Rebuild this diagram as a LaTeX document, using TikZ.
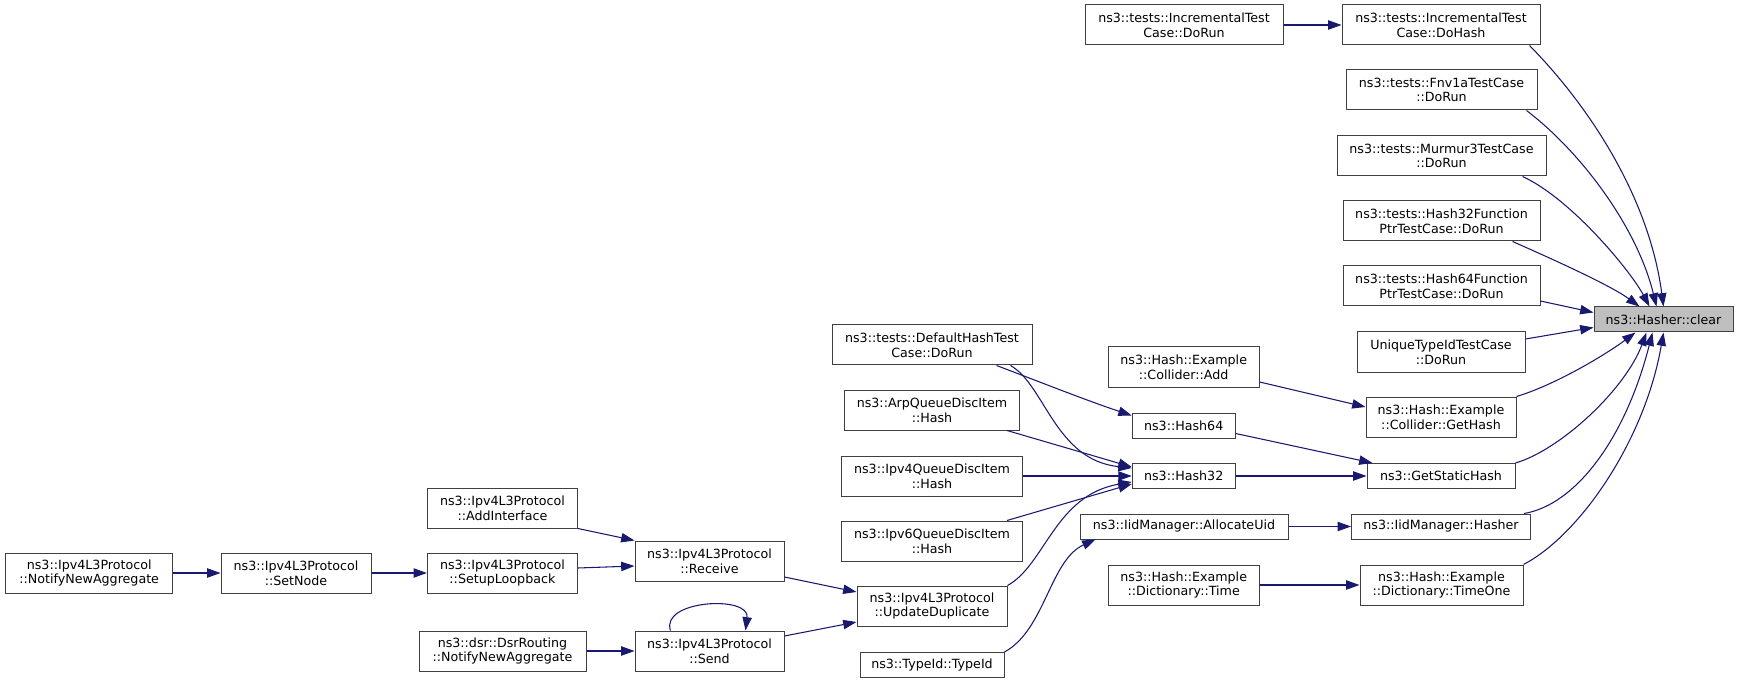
\documentclass[tikz,border=0pt]{standalone}
\usepackage{fontspec}
\setmainfont{DejaVu Sans}
\usetikzlibrary{arrows.meta,calc}
\definecolor{edgeblue}{HTML}{191970}
\definecolor{boxborder}{HTML}{404040}
\definecolor{hlfill}{HTML}{BFBFBF}
\begin{document}
\begin{tikzpicture}[x=0.75pt,y=-0.75pt,
  fn/.style={draw=boxborder, fill=white, line width=0.75pt, inner sep=0pt, align=center,
             font=\fontsize{9.5}{11}\selectfont, text=black},
  sz/.style 2 args={minimum width=#1*0.75pt, minimum height=#2*0.75pt},
  cur/.style={fn, fill=hlfill},
  e/.style={draw=edgeblue, line width=0.8pt, -{Triangle[length=10pt,width=7pt]}}]
\useasboundingbox (0,0) rectangle (1739,684);

% right column
\node[cur, sz={139}{25}] (clear) at (1663.5,319.5) {ns3::Hasher::clear};
\node[fn, sz={198}{40}] (inchash) at (1441,25) {ns3::tests::IncrementalTest\\Case::DoHash};
\node[fn, sz={191}{40}] (fnv) at (1441.5,90) {ns3::tests::Fnv1aTestCase\\::DoRun};
\node[fn, sz={209}{40}] (murmur) at (1441.5,156) {ns3::tests::Murmur3TestCase\\::DoRun};
\node[fn, sz={197}{40}] (h32f) at (1441.5,221) {ns3::tests::Hash32Function\\PtrTestCase::DoRun};
\node[fn, sz={197}{40}] (h64f) at (1441.5,286) {ns3::tests::Hash64Function\\PtrTestCase::DoRun};
\node[fn, sz={168}{40}] (unique) at (1441,352) {UniqueTypeIdTestCase\\::DoRun};
\node[fn, sz={150}{40}] (gethash) at (1441,417) {ns3::Hash::Example\\::Collider::GetHash};
\node[fn, sz={148}{25}] (gsh) at (1441,476) {ns3::GetStaticHash};
\node[fn, sz={179}{25}] (iidhasher) at (1441,526.5) {ns3::IidManager::Hasher};
\node[fn, sz={163}{40}] (timeone) at (1441.5,585) {ns3::Hash::Example\\::Dictionary::TimeOne};

% middle column
\node[fn, sz={198}{40}] (incrun) at (1184,25) {ns3::tests::IncrementalTest\\Case::DoRun};
\node[fn, sz={151}{40}] (colladd) at (1183.7,367) {ns3::Hash::Example\\::Collider::Add};
\node[fn, sz={103}{25}] (h64) at (1183.7,425.5) {ns3::Hash64};
\node[fn, sz={103}{25}] (h32) at (1183.7,476) {ns3::Hash32};
\node[fn, sz={208}{25}] (alloc) at (1184,526.5) {ns3::IidManager::AllocateUid};
\node[fn, sz={151}{40}] (dtime) at (1183.7,585) {ns3::Hash::Example\\::Dictionary::Time};

% column 932
\node[fn, sz={200}{40}] (deftest) at (932,345) {ns3::tests::DefaultHashTest\\Case::DoRun};
\node[fn, sz={175}{40}] (arp) at (932,410) {ns3::ArpQueueDiscItem\\::Hash};
\node[fn, sz={181}{40}] (ipv4q) at (932,476) {ns3::Ipv4QueueDiscItem\\::Hash};
\node[fn, sz={181}{40}] (ipv6q) at (932,541) {ns3::Ipv6QueueDiscItem\\::Hash};
\node[fn, sz={150}{40}] (updup) at (932,606) {ns3::Ipv4L3Protocol\\::UpdateDuplicate};
\node[fn, sz={144}{25}] (typeid) at (932,665) {ns3::TypeId::TypeId};

% column 709
\node[fn, sz={149}{40}] (receive) at (709.5,561) {ns3::Ipv4L3Protocol\\::Receive};
\node[fn, sz={149}{40}] (send) at (709.5,651) {ns3::Ipv4L3Protocol\\::Send};

% column 502
\node[fn, sz={150}{40}] (addif) at (502.4,508) {ns3::Ipv4L3Protocol\\::AddInterface};
\node[fn, sz={150}{40}] (setuplb) at (502.4,573) {ns3::Ipv4L3Protocol\\::SetupLoopback};
\node[fn, sz={167}{40}] (dsr) at (502.5,651) {ns3::dsr::DsrRouting\\::NotifyNewAggregate};

% left
\node[fn, sz={150}{40}] (setnode) at (296,573) {ns3::Ipv4L3Protocol\\::SetNode};
\node[fn, sz={167}{40}] (notify) at (89.2,573) {ns3::Ipv4L3Protocol\\::NotifyNewAggregate};

% edges into clear
\draw[e] ($(inchash.south east)+(-11,0)$) .. controls (1589,106) and (1649,197) .. ($(clear.north west)+(70,0)$);
\draw[e] ($(fnv.south east)+(-11,0)$) .. controls (1581,152) and (1637,227) .. ($(clear.north west)+(63,0)$);
\draw[e] ($(murmur.south east)+(-24,0)$) .. controls (1570,198) and (1630,270) .. ($(clear.north west)+(56,0)$);
\draw[e] ($(h32f.south east)+(-28,0)$) .. controls (1550,258) and (1610,285) .. ($(clear.north west)+(46,0)$);
\draw[e] ($(h64f.east)+(0,15)$) -- ($(clear.west)+(0,-7)$);
\draw[e] ($(unique.east)+(0,-13)$) -- ($(clear.west)+(0,8)$);
\draw[e] (gethash.north east) .. controls (1555,385) and (1605,355) .. ($(clear.south west)+(42,0)$);
\draw[e] (gsh.north east) .. controls (1560,450) and (1625,390) .. ($(clear.south west)+(53,0)$);
\draw[e] ($(iidhasher.north east)+(-7,0)$) .. controls (1575,505) and (1625,440) .. ($(clear.south west)+(59,0)$);
\draw[e] (timeone.north east) .. controls (1580,535) and (1645,440) .. ($(clear.south west)+(70,0)$);

% middle edges
\draw[e] (incrun) -- (inchash);
\draw[e] ($(colladd.east)+(0,15)$) -- ($(gethash.west)+(0,-10)$);
\draw[e] ($(h64.east)+(0,8)$) -- ($(gsh.north west)+(6,0)$);
\draw[e] (h32) -- (gsh);
\draw[e] (alloc) -- (iidhasher);
\draw[e] (dtime) -- (timeone);

% into Hash64 / Hash32 / AllocateUid
\draw[e] ($(deftest.south east)+(-36,0)$) .. controls (1035,380) and (1085,400) .. ($(h64.west)+(0,-10)$);
\draw[e] ($(deftest.south east)+(-22,0)$) .. controls (1045,385) and (1055,460) .. ($(h32.west)+(0,-8)$);
\draw[e] ($(arp.south east)+(-13,0)$) -- ($(h32.west)+(0,-9)$);
\draw[e] (ipv4q) -- (h32);
\draw[e] ($(ipv6q.north east)+(-16,0)$) -- ($(h32.west)+(0,8)$);
\draw[e] (updup.north east) .. controls (1045,565) and (1055,495) .. ($(h32.west)+(0,6)$);
\draw[e] (typeid.north east) .. controls (1045,630) and (1050,560) .. ($(alloc.south west)+(16,0)$);

% Ipv4L3Protocol chain
\draw[e] ($(receive.east)+(0,16)$) -- ($(updup.west)+(0,-14)$);
\draw[e] ($(send.east)+(0,-15)$) -- ($(updup.west)+(0,16)$);
\draw[e] ($(send.north west)+(36,0)$) .. controls (660,600) and (750,595) .. ($(send.north west)+(111,0)$);
\draw[e] (dsr) -- (send);
\draw[e] (addif.south east) -- (receive.north west);
\draw[e] ($(setuplb.east)+(0,-5)$) -- ($(receive.west)+(0,5)$);
\draw[e] (setnode) -- (setuplb);
\draw[e] (notify) -- (setnode);
\end{tikzpicture}
\end{document}
